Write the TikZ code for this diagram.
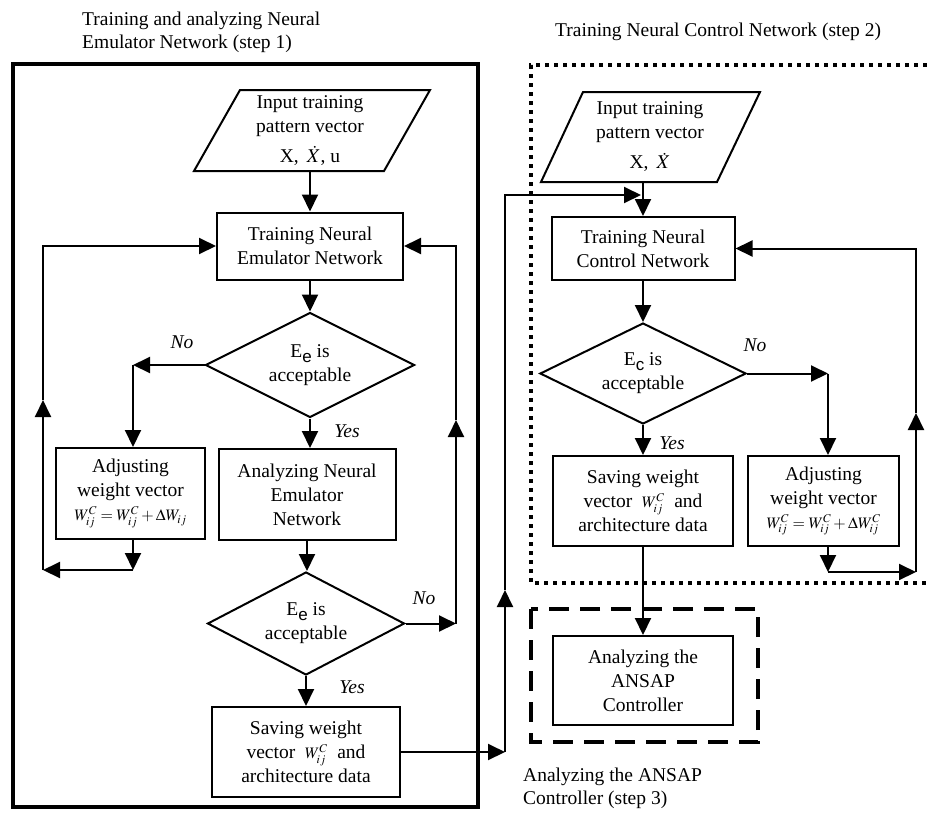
\documentclass[tikz,border=0pt]{standalone}
\usepackage{mathptmx}
\usepackage{fontspec}
\setmainfont{Liberation Serif}
\newfontfamily\sansf{Liberation Sans}
\usetikzlibrary{arrows.meta,shapes.geometric}
\newcommand\lowsub[1]{\raisebox{-5pt}{\sansf\fontsize{17}{17}\selectfont #1}}
\newcommand\fml{\fontsize{16}{20}\selectfont}
\begin{document}
\begin{tikzpicture}[x=1pt,y=-1pt,
  every node/.style={font=\fontsize{19.5}{24}\selectfont},
  blk/.style={draw, line width=2pt, align=center, inner sep=0pt},
  dia/.style={draw, diamond, line width=2pt, align=center, inner sep=0pt, aspect=2},
  txt/.style={inner sep=0pt, align=center},
  lbl/.style={inner sep=0pt, font=\itshape\fontsize{19.5}{24}\selectfont},
  ttl/.style={inner sep=0pt, align=left, font=\fontsize{19.5}{23}\selectfont},
  conn/.style={line width=2pt},
  arr/.style={line width=2pt, -{Triangle[length=17pt,width=16pt]}},
]
\useasboundingbox (0,0) rectangle (927,812);

% frames
\draw[line width=3.5pt] (13,64) rectangle (478,807);
\draw[line width=4pt, dash pattern=on 4pt off 5pt] (927,65) -- (531,65) -- (531,583) -- (927,583);
\draw[line width=4.5pt, dash pattern=on 20pt off 11pt] (531,609) rectangle (758,742);

% titles
\node[ttl, anchor=north west] (title1) at (82,12) {Training and analyzing Neural\\Emulator Network (step 1)};
\node[inner sep=0pt, anchor=base west] (title2) at (555,36) {Training Neural Control Network (step 2)};
\node[ttl, anchor=north west] (title3) at (523,768) {Analyzing the ANSAP\\Controller (step 3)};

% left column
\draw[line width=2pt] (194,171) -- (240,90) -- (430,90) -- (384,171) -- cycle;
\node[txt, minimum height=81pt, minimum width=150pt] (p1) at (310,130.5) {Input training\\pattern vector\\[6pt]X, \,$\dot{X}$, u};
\node[blk, minimum width=186pt, minimum height=67pt] (tne) at (310,246) {Training Neural\\Emulator Network};
\node[dia, minimum width=209pt, minimum height=105pt] (d1) at (310,365) {E\lowsub{e} is\\acceptable};
\node[blk, minimum width=149pt, minimum height=91pt] (adj1) at (130.5,493.5) {Adjusting\\weight vector\\{\fml$W_{ij}^{C}=W_{ij}^{C}+\Delta W_{ij}$}};
\node[blk, minimum width=177pt, minimum height=91pt] (ane) at (307,494.5) {Analyzing Neural\\Emulator\\Network};
\node[dia, minimum width=197pt, minimum height=103pt] (d2) at (306,623.5) {E\lowsub{e} is\\acceptable};
\node[blk, minimum width=188pt, minimum height=90pt] (sav1) at (306,752) {Saving weight\\vector \ {\fml$W_{ij}^{C}$} \ and\\architecture data};

% right column
\draw[line width=2pt] (541,182) -- (583,92) -- (760,92) -- (717,182) -- cycle;
\node[txt, minimum height=90pt, minimum width=150pt] (p2) at (650,137) {Input training\\pattern vector\\[6pt]X, \,$\dot{X}$};
\coordinate (p2b) at (643,182);
\node[blk, minimum width=183pt, minimum height=63pt] (tnc) at (643,248.5) {Training Neural\\Control Network};
\node[dia, minimum width=206pt, minimum height=101pt] (dc) at (643,373.5) {E\lowsub{c} is\\acceptable};
\node[blk, minimum width=180pt, minimum height=90pt] (sav2) at (643,501) {Saving weight\\vector \ {\fml$W_{ij}^{C}$} \ and\\architecture data};
\node[blk, minimum width=151pt, minimum height=90pt] (adj2) at (823.5,501) {Adjusting\\weight vector\\{\fml$W_{ij}^{C}=W_{ij}^{C}+\Delta W_{ij}^{C}$}};
\node[blk, minimum width=180pt, minimum height=89pt] (ansap) at (643,680.5) {Analyzing the\\ANSAP\\Controller};

% labels
\node[lbl] (no1) at (182,342) {No};
\node[lbl] (yes1) at (347,431) {Yes};
\node[lbl] (no2) at (424,598) {No};
\node[lbl] (yes2) at (352,687) {Yes};
\node[lbl] (no3) at (755,345) {No};
\node[lbl] (yes3) at (672,443) {Yes};

% left connectors
\draw[arr] (p1.south) -- (tne.north);
\draw[arr] (tne.south) -- (d1.north);
\coordinate (l1) at (133,365);
\draw[arr] (d1.west) -- (l1);
\draw[arr] (l1) -- (l1 |- adj1.north);
\draw[arr] (d1.south) -- (d1.south |- ane.north);
\coordinate (l2) at (133,570);
\coordinate (l3) at (43,570);
\coordinate (l4) at (43,400);
\draw[arr] (adj1.south -| l1) -- (l2);
\draw[arr] (l2) -- (l3);
\draw[arr] (l3) -- (l4);
\draw[arr] (l4) |- (tne.west);
\draw[arr] (ane.south) -- (ane.south |- d2.north);
\coordinate (r1) at (456,623.5);
\coordinate (r2) at (456,420);
\draw[arr] (d2.east) -- (r1);
\draw[arr] (r1) -- (r2);
\draw[arr] (r2) |- (tne.east);
\draw[arr] (d2.south) -- (sav1.north);

% cross link
\coordinate (x1) at (505,752);
\coordinate (x2) at (505,590);
\coordinate (x3) at (641,195);
\draw[arr] (sav1.east) -- (x1);
\draw[arr] (x1) -- (x2);
\draw[arr] (x2) |- (x3);

% right connectors
\draw[arr] (p2b) -- (tnc.north);
\draw[arr] (tnc.south) -- (dc.north);
\coordinate (c1) at (828,373.5);
\draw[arr] (dc.east) -- (c1);
\draw[arr] (c1) -- (c1 |- adj2.north);
\draw[arr] (dc.south) -- (sav2.north);
\coordinate (c2) at (828,572);
\coordinate (c3) at (916,572);
\coordinate (c4) at (916,413);
\draw[arr] (adj2.south -| c1) -- (c2);
\draw[arr] (c2) -- (c3);
\draw[arr] (c3) -- (c4);
\draw[arr] (c4) |- (tnc.east);
\draw[arr] (sav2.south) -- (ansap.north);
\end{tikzpicture}
\end{document}
